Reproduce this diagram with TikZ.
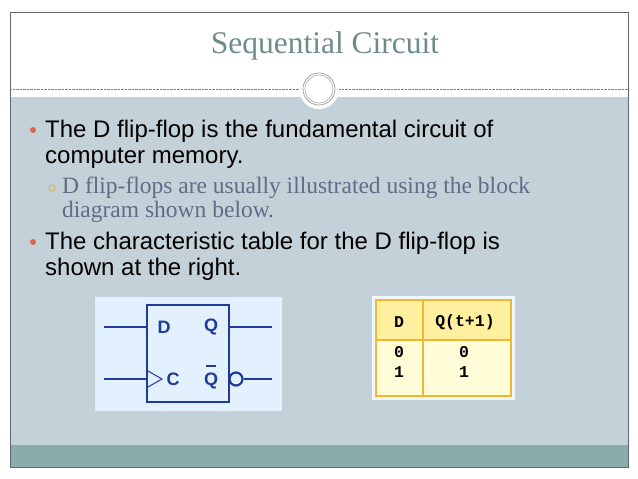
\documentclass[tikz,border=0pt]{standalone}
\usepackage{fontspec}
\setmainfont{Liberation Serif}
\setsansfont{Liberation Sans}
\setmonofont{Liberation Mono}
\definecolor{bodyg}{HTML}{C5D1D8}
\definecolor{teal}{HTML}{8AACAC}
\definecolor{titlec}{HTML}{6E8C8A}
\definecolor{bulc}{HTML}{D9674A}
\definecolor{subc}{HTML}{5D6E86}
\definecolor{subb}{HTML}{C9B84A}
\definecolor{ffbg}{HTML}{E2F1FD}
\definecolor{ffc}{HTML}{1F3A99}
\definecolor{tbbg}{HTML}{FFFDD8}
\definecolor{tbhd}{HTML}{FFF0A0}
\definecolor{tbln}{HTML}{F2B632}
\tikzset{x=1pt,y=-1pt,
 main/.style={anchor=base west,font=\sffamily\fontsize{24}{24}\selectfont,inner sep=0},
 sub/.style={anchor=base west,font=\fontsize{23.5}{24}\selectfont,text=subc,inner sep=0},
 ffl/.style={draw=ffc,line width=2.2pt},
 fft/.style={font=\sffamily\bfseries\fontsize{18}{18}\selectfont,text=ffc},
 tbt/.style={font=\ttfamily\bfseries\fontsize{16.5}{16}\selectfont}}
\begin{document}
\begin{tikzpicture}
\useasboundingbox (0,0) rectangle (638,479);
\fill[white] (0,0) rectangle (638,479);
\fill[bodyg] (10,97) rectangle (628,445);
\fill[teal] (10,445) rectangle (628,467);
\draw[gray!80!black,line width=0.5pt] (10,12) rectangle (628,467);
\draw[gray,densely dotted] (10,89) -- (628,89);
\node[font=\fontsize{31.5}{32}\selectfont,text=titlec] (title) at (325,46) {Sequential Circuit};
\fill[white] (319,89) circle (20);
\draw[gray!70,line width=0.8pt] (319,89) circle (16);
\draw[gray!70,line width=0.6pt] (319,89) circle (14);
\fill[bulc] (33,130) circle (3);
\node[main] (l1) at (45,137) {The D flip-flop is the fundamental circuit of};
\node[main] (l2) at (45,163) {computer memory.};
\draw[subb,line width=0.8pt] (52,188) circle (3.2);
\node[sub] (l3) at (62,193) {D flip-flops are usually illustrated using the block};
\node[sub] (l4) at (62,217) {diagram shown below.};
\fill[bulc] (33,242) circle (3);
\node[main] (l5) at (45,249) {The characteristic table for the D flip-flop is};
\node[main] (l6) at (45,275) {shown at the right.};
% flip-flop
\fill[ffbg] (95,297) rectangle (282,411);
\node[draw=ffc,line width=2.2pt,minimum width=82pt,minimum height=97pt,inner sep=0] (ff) at (188,353.5) {};
\coordinate (din) at (104,327);
\coordinate (cin) at (104,379);
\coordinate (qout) at (272,327);
\coordinate (qbout) at (272,379);
\draw[ffl] (din) -- (din -| ff.west);
\draw[ffl] (cin) -- (cin -| ff.west);
\draw[ffl] (qout) -- (qout -| ff.east);
\node[draw=ffc,line width=2.2pt,circle,inner sep=0,minimum size=13pt,fill=ffbg] (bub) at (236,379) {};
\draw[ffl] (bub.east) -- (qbout);
\draw[draw=ffc,line width=1pt] (148,371) -- (162,379) -- (148,387);
\node[fft] (dl) at (164,327) {D};
\node[fft] (ql) at (211,327) {Q};
\node[fft] (cl) at (173,379) {C};
\node[fft] (qbl) at (211,381) {Q};
\draw[ffc,line width=1.5pt] (206,366) -- (216,366);
% table
\fill[ffbg!60!white] (372,296) rectangle (515,400);
\fill[tbbg] (376,300) rectangle (511,396);
\fill[tbhd] (376,300) rectangle (511,340);
\draw[tbln,line width=2.2pt] (376,300) rectangle (511,396);
\draw[tbln,line width=1.5pt] (376,340) -- (511,340);
\draw[tbln,line width=1.5pt] (423,300) -- (423,396);
\node[tbt] (h1) at (399,322) {D};
\node[tbt] (h2) at (465,322) {Q(t+1)};
\node[tbt] (a1) at (399,352) {0};
\node[tbt] (a2) at (399,372) {1};
\node[tbt] (b1) at (464,352) {0};
\node[tbt] (b2) at (464,372) {1};
\end{tikzpicture}
\end{document}
